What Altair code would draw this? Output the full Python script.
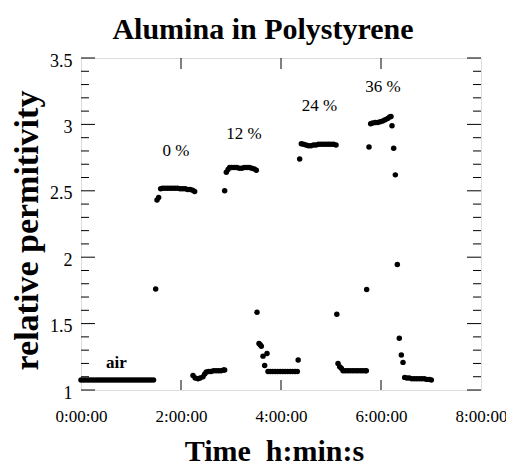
import altair as alt
import pandas as pd

# ---- data (time in minutes, relative permittivity) ----
air_time = [0, 3, 6, 9, 12, 15, 18, 21, 24, 27, 30, 33, 36, 39, 42, 45, 48, 51, 54, 57,
            60, 63, 66, 69, 72, 75, 78, 81, 84, 87]
air_perm = [1.075, 1.075, 1.075, 1.075, 1.075, 1.075, 1.075, 1.075, 1.075, 1.075,
            1.075, 1.075, 1.075, 1.075, 1.075, 1.075, 1.075, 1.075, 1.075, 1.075,
            1.075, 1.075, 1.075, 1.075, 1.075, 1.075, 1.075, 1.075, 1.075, 1.075]

rise0_time = [89.6, 91.2, 93.2]
rise0_perm = [1.76, 2.43, 2.45]
p0_time = [95.6, 98, 101, 104, 107, 110, 113, 116, 119, 122, 125, 128, 131, 134, 136.4]
p0_perm = [2.515, 2.52, 2.52, 2.52, 2.52, 2.52, 2.52, 2.52, 2.515, 2.515, 2.515, 2.51, 2.51, 2.505, 2.495]
low0_time = [134.4, 137, 140.4, 143, 146.4, 148.5, 150.4, 153, 156, 159, 162, 165, 168, 171, 172.4]
low0_perm = [1.11, 1.09, 1.085, 1.09, 1.10, 1.12, 1.135, 1.14, 1.14, 1.145, 1.145, 1.145, 1.145, 1.15, 1.15]

rise12_time = [172.4]
rise12_perm = [2.50]
p12_time = [174.4, 176.5, 178.4, 181, 184, 187, 190, 193, 196, 199, 202, 205, 208, 210.4]
p12_perm = [2.64, 2.66, 2.675, 2.675, 2.675, 2.675, 2.67, 2.67, 2.675, 2.675, 2.675, 2.67, 2.665, 2.655]
drop12_time = [211.2, 213.6, 215.0, 216.4, 218.4, 220.4, 223.2]
drop12_perm = [1.585, 1.35, 1.34, 1.33, 1.255, 1.185, 1.275]
low12_time = [224.4, 227, 230, 233, 236, 239, 242, 245, 248, 251, 254, 257, 259.6, 260.6]
low12_perm = [1.14, 1.14, 1.14, 1.14, 1.14, 1.14, 1.14, 1.14, 1.14, 1.14, 1.14, 1.14, 1.14, 1.226]

rise24_time = [262.4]
rise24_perm = [2.74]
p24_time = [264.4, 267, 270, 273, 276, 279, 282, 285, 288, 291, 294, 297, 300, 303, 306.0]
p24_perm = [2.855, 2.85, 2.845, 2.84, 2.84, 2.845, 2.845, 2.85, 2.85, 2.85, 2.85, 2.85, 2.85, 2.85, 2.845]
drop24_time = [307.0, 308.4, 310.4, 312.4]
drop24_perm = [1.57, 1.20, 1.175, 1.163]
low24_time = [314.4, 317, 320, 323, 326, 329, 332, 335, 338, 341, 342.4]
low24_perm = [1.145, 1.145, 1.145, 1.145, 1.145, 1.145, 1.145, 1.145, 1.145, 1.145, 1.145]

rise36_time = [342.8, 345.6]
rise36_perm = [1.757, 2.83]
p36_time = [347.6, 350, 353, 356, 359, 362, 365, 368, 370.4, 372]
p36_perm = [3.005, 3.01, 3.015, 3.015, 3.02, 3.025, 3.035, 3.045, 3.055, 3.06]
drop36_time = [373.2, 375.2, 377.2, 379.6, 382, 384.4, 386.4]
drop36_perm = [2.99, 2.82, 2.62, 1.945, 1.39, 1.263, 1.208]
low36_time = [388.4, 391, 394, 397, 400, 403, 406, 409, 412, 415, 418, 420.4]
low36_perm = [1.095, 1.09, 1.09, 1.085, 1.085, 1.085, 1.085, 1.085, 1.085, 1.08, 1.08, 1.075]

label_text = ["0 %", "12 %", "24 %", "36 %"]
label_time = [114, 195.6, 286, 362.4]
label_perm = [2.80, 2.93, 3.14, 3.28]
air_label_text = ["air"]
air_label_time = [42.6]
air_label_perm = [1.20]

x_tick_values = [0, 120, 240, 360, 480]
x_inner_ticks = [120, 240, 360]
y_major_ticks = [1.0, 1.5, 2.0, 2.5, 3.0, 3.5]
y_minor_ticks = [1.1, 1.2, 1.3, 1.4, 1.6, 1.7, 1.8, 1.9, 2.1, 2.2, 2.3, 2.4,
                 2.6, 2.7, 2.8, 2.9, 3.1, 3.2, 3.3, 3.4]

segments = [
    (air_time, air_perm), (rise0_time, rise0_perm), (p0_time, p0_perm), (low0_time, low0_perm),
    (rise12_time, rise12_perm), (p12_time, p12_perm), (drop12_time, drop12_perm), (low12_time, low12_perm),
    (rise24_time, rise24_perm), (p24_time, p24_perm), (drop24_time, drop24_perm), (low24_time, low24_perm),
    (rise36_time, rise36_perm), (p36_time, p36_perm), (drop36_time, drop36_perm), (low36_time, low36_perm),
]
rows = []
for ts, vs in segments:
    for t, v in zip(ts, vs):
        rows.append({"t": t, "v": v})
df = pd.DataFrame(rows)

W, H = 400, 332
FONT = "Liberation Serif"
xs = alt.Scale(domain=[0, 480], nice=False, zero=False)
ys = alt.Scale(domain=[1, 3.5], nice=False, zero=False)

x_axis = alt.Axis(
    values=x_tick_values, labelExpr="floor(datum.value / 60) + ':00:00'",
    ticks=False, domain=False, grid=False, labelFlush=False,
    labelFont=FONT, labelFontSize=17, labelColor="black", labelPadding=18,
    title="Time\u00a0\u00a0h:min:s", titleFont=FONT, titleFontSize=30, titleFontWeight="bold",
    titleColor="black", titleX=193, titleY=70, titleAlign="center", titleBaseline="alphabetic")
y_axis = alt.Axis(
    values=y_major_ticks, labelExpr="datum.value + ''",
    ticks=False, domain=False, grid=False, labelFlush=False,
    labelFont=FONT, labelFontSize=18, labelColor="black", labelPadding=9, labelOffset=3,
    title="relative permitivity", titleFont=FONT, titleFontSize=34, titleFontWeight="bold",
    titleColor="black", titleAngle=270, titleX=-44, titleY=172, titleAlign="center",
    titleBaseline="alphabetic")

points = alt.Chart(df).mark_circle(size=30, color="black", opacity=1).encode(
    x=alt.X("t:Q", scale=xs, axis=x_axis),
    y=alt.Y("v:Q", scale=ys, axis=y_axis),
)

ymaj = pd.DataFrame({"v": y_major_ticks})
ymin = pd.DataFrame({"v": y_minor_ticks})
xin = pd.DataFrame({"t": x_inner_ticks})

def yrule(d, x1, x2):
    return alt.Chart(d).mark_rule(color="black", strokeWidth=1).encode(
        y=alt.Y("v:Q", scale=ys, axis=y_axis), x=alt.value(x1), x2=alt.value(x2))

def xrule(y1, y2):
    return alt.Chart(xin).mark_rule(color="black", strokeWidth=1).encode(
        x=alt.X("t:Q", scale=xs, axis=x_axis), y=alt.value(y1), y2=alt.value(y2))

ticks = [
    yrule(ymaj, 0, 14), yrule(ymin, 0, 8),
    yrule(ymaj, W, W - 14), yrule(ymin, W, W - 8),
    xrule(0, 11), xrule(H, H - 10),
]

lab_df = pd.DataFrame({"t": label_time, "v": label_perm, "txt": label_text})
labels = alt.Chart(lab_df).mark_text(font=FONT, fontSize=17, color="black").encode(
    x=alt.X("t:Q", scale=xs, axis=x_axis), y=alt.Y("v:Q", scale=ys, axis=y_axis), text="txt:N")
air_df = pd.DataFrame({"t": air_label_time, "v": air_label_perm, "txt": air_label_text})
air_lab = alt.Chart(air_df).mark_text(font=FONT, fontSize=17, fontWeight="bold", color="black").encode(
    x=alt.X("t:Q", scale=xs, axis=x_axis), y=alt.Y("v:Q", scale=ys, axis=y_axis), text="txt:N")

chart = alt.layer(points, *ticks, labels, air_lab).properties(
    width=W, height=H,
    padding={"left": 73, "top": 50, "right": 25, "bottom": 76},
    autosize="none",
    title=alt.TitleParams("Alumina in Polystyrene", font=FONT, fontSize=30, fontWeight="bold",
                          color="black", anchor="middle", dx=-18, offset=7),
).configure_view(stroke="black", strokeWidth=1.2).configure(background="white")

chart.save("out.html", embed_options={"renderer": "svg", "actions": False})
